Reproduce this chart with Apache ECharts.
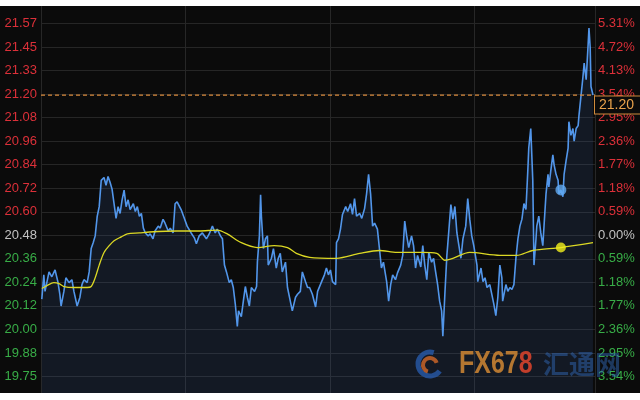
<!DOCTYPE html>
<html><head><meta charset="utf-8">
<script src="https://cdn.jsdelivr.net/npm/echarts@6/dist/echarts.min.js"></script>
<style>html,body{margin:0;padding:0;background:#fff;}#c{width:640px;height:400px;}</style>
</head><body><div id="c"></div>
<script>
// minutes since session open
const times = [
2,7,10,20,27,35,42,47,50,57,
62,70,77,82,90,97,102,107,115,120,
125,130,135,140,145,150,157,162,167,172,
177,182,187,192,197,202,207,212,217,222,
230,235,240,245,250,255,260,267,272,279,
284,292,297,304,309,317,322,329,334,339,
349,357,364,374,382,387,394,402,412,419,
427,434,439,447,452,457,462,469,474,479,
484,489,492,499,504,509,514,519,524,532,
537,539,544,547,549,554,559,564,566,574,
579,586,591,596,601,609,614,621,626,634,
639,646,651,659,664,669,676,684,689,699,
706,711,716,721,726,734,736,741,746,751,
759,764,771,776,781,786,794,799,806,811,
816,821,826,831,838,843,848,853,861,866,
871,876,883,888,896,901,906,911,916,923,
928,933,938,946,951,956,961,966,973,978,
983,988,993,998,1001,1006,1011,1013,1021,1026,
1031,1036,1041,1046,1051,1058,1063,1068,1073,1078,
1086,1088,1096,1101,1106,1111,1118,1123,1128,1133,
1138,1143,1148,1150,1158,1163,1168,1173,1178,1183,
1188,1193,1198,1203,1208,1213,1215,1220,1225,1228,
1233,1235,1240,1245,1250,1253,1258,1263,1265,1270,
1275,1278,1283,1288,1290,1295,1300,1303,1308,1313,
1315,1320,1325,1328,1333,1338,1340,1345,1350,1353,
1358,1363,1365,1368,1370,1375];
const prices = [
20.152,20.277,20.192,20.292,20.267,20.302,20.242,20.177,20.117,20.192,
20.262,20.237,20.252,20.192,20.117,20.162,20.227,20.252,20.237,20.292,
20.412,20.442,20.477,20.577,20.627,20.762,20.777,20.737,20.782,20.752,
20.717,20.642,20.567,20.627,20.592,20.662,20.712,20.627,20.662,20.612,
20.642,20.602,20.627,20.577,20.592,20.517,20.492,20.477,20.487,20.462,
20.502,20.527,20.517,20.562,20.542,20.502,20.517,20.492,20.642,20.652,
20.612,20.567,20.527,20.492,20.467,20.437,20.477,20.492,20.462,20.487,
20.527,20.492,20.512,20.477,20.462,20.327,20.292,20.237,20.252,20.212,
20.127,20.012,20.092,20.062,20.142,20.217,20.162,20.117,20.212,20.192,
20.217,20.342,20.477,20.688,20.578,20.412,20.462,20.477,20.327,20.362,
20.412,20.312,20.362,20.387,20.292,20.342,20.212,20.142,20.092,20.162,
20.177,20.192,20.292,20.242,20.212,20.212,20.177,20.112,20.192,20.242,
20.277,20.312,20.277,20.302,20.242,20.227,20.442,20.462,20.512,20.587,
20.627,20.602,20.642,20.587,20.668,20.578,20.592,20.567,20.617,20.693,
20.793,20.693,20.527,20.542,20.512,20.412,20.312,20.342,20.242,20.142,
20.227,20.277,20.252,20.287,20.327,20.377,20.553,20.477,20.417,20.477,
20.427,20.312,20.377,20.317,20.427,20.327,20.252,20.392,20.342,20.362,
20.292,20.227,20.142,20.092,19.962,20.177,20.377,20.427,20.638,20.563,
20.628,20.492,20.427,20.362,20.462,20.527,20.668,20.563,20.477,20.427,
20.327,20.242,20.312,20.242,20.262,20.212,20.227,20.177,20.127,20.067,
20.162,20.327,20.262,20.142,20.227,20.192,20.212,20.202,20.227,20.362,
20.462,20.527,20.563,20.643,20.613,20.828,20.928,21.028,20.763,20.327,
20.462,20.527,20.578,20.492,20.427,20.527,20.693,20.793,20.728,20.813,
20.893,20.843,20.793,20.763,20.693,20.713,20.678,20.793,20.863,20.928,
21.063,20.993,21.028,20.963,21.028,21.043,21.093,21.193,21.294,21.364,
21.279,21.464,21.544,21.444,21.244,21.200];
const avgTimes = [2,15,32,45,57,82,115,125,135,145,157,170,182,200,215,245,270,339,394,439,464,499,539,581,614,636,669,736,794,843,886,951,986,1006,1026,1068,1143,1185,1225,1295,1375];
const avgPrices = [20.207,20.222,20.237,20.232,20.217,20.212,20.212,20.217,20.262,20.327,20.392,20.427,20.452,20.472,20.487,20.492,20.497,20.502,20.502,20.507,20.487,20.442,20.417,20.427,20.417,20.387,20.367,20.362,20.387,20.402,20.392,20.392,20.387,20.352,20.362,20.392,20.377,20.377,20.402,20.417,20.442];
const leftLabels = ['19.75','19.88','20.00','20.12','20.24','20.36','20.48','20.60','20.72','20.84','20.96','21.08','21.20','21.33','21.45','21.57'];
const rightLabels = ['3.54%','2.95%','2.36%','1.77%','1.18%','0.59%','0.00%','0.59%','1.18%','1.77%','2.36%','2.95%','3.54%','4.13%','4.72%','5.31%'];
const lastPrice = 21.20;
const sessionMinutes = 1380;
const cursorIdx = 235;
const avgCursorIdx = 39;

const yStep = 0.1208;
const yMin = 19.6344;
const yMax = 21.688;
const zeroIdx = 6;

function labelIndex(v){ return Math.round((v - yMin) / yStep) - 1; }
function fmt(arr){
  return function(v){
    const i = labelIndex(v);
    if (i < 0 || i >= arr.length) return '';
    const s = i < zeroIdx ? 'g' : (i === zeroIdx ? 'n' : 'r');
    return '{' + s + '|' + arr[i] + '}';
  };
}
const FONT = 'Liberation Sans, Arial, sans-serif';
const rich = {
  r: {color: '#dc3039', fontSize: 13, fontFamily: FONT},
  g: {color: '#38ad47', fontSize: 13, fontFamily: FONT},
  n: {color: '#c2c2c2', fontSize: 13, fontFamily: FONT}
};

const lineData = times.map((t, i) => [t, prices[i]]);
const avgData = avgTimes.map((t, i) => [t, avgPrices[i]]);

const chart = echarts.init(document.getElementById('c'), null, {renderer: 'canvas'});
chart.setOption({
  backgroundColor: '#0b0b0b',
  animation: false,
  grid: {left: 41, right: 45, top: -1.6, bottom: -8.1},
  xAxis: {
    type: 'value', min: 0, max: sessionMinutes, interval: 360,
    axisLine: {show: false}, axisTick: {show: false}, axisLabel: {show: false},
    splitLine: {show: true, lineStyle: {color: '#272727', width: 1}}
  },
  yAxis: [
    {
      type: 'value', position: 'left', min: yMin, max: yMax, interval: yStep,
      axisLine: {show: false}, axisTick: {show: false},
      axisLabel: {margin: 4, formatter: fmt(leftLabels), rich: rich},
      splitLine: {show: true, lineStyle: {color: '#262626', width: 1}}
    },
    {
      type: 'value', position: 'right', min: yMin, max: yMax, interval: yStep,
      axisLine: {show: false}, axisTick: {show: false},
      axisLabel: {margin: 3, formatter: fmt(rightLabels), rich: rich},
      splitLine: {show: false}
    }
  ],
  series: [
    {
      type: 'line', data: lineData, showSymbol: false, symbol: 'none',
      lineStyle: {color: '#5296ea', width: 1.6},
      areaStyle: {color: 'rgba(55,85,145,0.28)', origin: 'start'},
      z: 3
    },
    {
      type: 'line', data: [[0, lastPrice], [sessionMinutes, lastPrice]],
      showSymbol: false, symbol: 'none', silent: true,
      lineStyle: {color: '#d98a3c', type: [4, 3], width: 1.3},
      z: 5,
      endLabel: {
        show: true, distance: 0, offset: [0, 10],
        formatter: lastPrice.toFixed(2),
        color: '#e9a24c', fontSize: 14, fontFamily: FONT,
        backgroundColor: '#0b0b0b', borderColor: '#d08b3c', borderWidth: 1,
        padding: [2, 6, 1, 4]
      }
    },
    {
      type: 'line', data: avgData, showSymbol: false, symbol: 'none', smooth: 0.3,
      lineStyle: {color: '#dcd824', width: 1.3}, z: 4
    },
    {
      type: 'scatter', data: [[times[cursorIdx], prices[cursorIdx]]],
      symbolSize: 11, itemStyle: {color: '#62aaf2'}, z: 6
    },
    {
      type: 'scatter', data: [[avgTimes[avgCursorIdx], avgPrices[avgCursorIdx]]],
      symbolSize: 10, itemStyle: {color: '#f3ef1c'}, z: 6
    }
  ],
  graphic: [
    {type: 'arc', shape: {cx: 430, cy: 364, r: 12, startAngle: Math.PI * 0.2, endAngle: Math.PI * 1.6},
     style: {stroke: 'rgba(40,90,170,0.8)', lineWidth: 5, fill: null}, z: 20},
    {type: 'arc', shape: {cx: 430, cy: 365, r: 7, startAngle: Math.PI * 0.6, endAngle: Math.PI * 1.9},
     style: {stroke: 'rgba(200,100,40,0.85)', lineWidth: 4, fill: null}, z: 20},
    {type: 'text', x: 459, y: 364, scaleX: 0.78, z: 20,
     style: {text: '{a|FX67}{b|8}', verticalAlign: 'middle',
       rich: {
         a: {fill: '#b57731', fontSize: 32, fontWeight: 'bold', fontFamily: FONT},
         b: {fill: '#c23e2b', fontSize: 32, fontWeight: 'bold', fontFamily: FONT}
       }}},
    {type: 'text', x: 543, y: 364, z: 20,
     style: {text: '汇通网', verticalAlign: 'middle', fill: 'rgba(50,110,195,0.45)',
       fontSize: 26, fontWeight: 'bold', fontFamily: 'Noto Sans CJK SC'}},
    {type: 'rect', shape: {x: 0, y: 0, width: 640, height: 6}, style: {fill: '#ffffff'}, z: 100},
    {type: 'rect', shape: {x: 0, y: 393, width: 640, height: 7}, style: {fill: '#ffffff'}, z: 100}
  ]
});
</script>
</body></html>
